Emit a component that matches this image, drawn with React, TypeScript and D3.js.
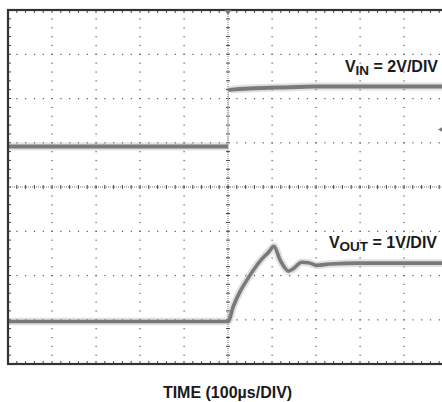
import React from "react";
import * as d3 from "d3";

// time in µs relative to the step (100 µs/DIV), values in screen divisions from centre
const vinLowTime = [-500, 0];
const vinLowDiv = [0.915, 0.915];
const vinHighTime = [1, 3, 20, 60, 120, 200, 300, 500];
const vinHighDiv = [2.17, 2.19, 2.21, 2.23, 2.25, 2.27, 2.27, 2.27];

const voutTime = [-500, 0, 12, 27, 42.5, 57.5, 76.6, 91.6, 104.5, 118, 129.5, 137, 148, 167.5, 182.5, 201.6, 232, 300, 400, 500];
const voutDiv = [-3.04, -3.04, -2.7, -2.37, -2.11, -1.88, -1.63, -1.48, -1.34, -1.64, -1.83, -1.9, -1.85, -1.7, -1.71, -1.77, -1.74, -1.72, -1.72, -1.72];

const xDivisions = [-500, -400, -300, -200, -100, 0, 100, 200, 300, 400, 500];
const yDivisions = [-4, -3, -2, -1, 0, 1, 2, 3, 4];

const W = 442;
const H = 402;

export default function App() {
  const x = d3.scaleLinear().domain([-500, 500]).range([8, 448]);
  const y = d3.scaleLinear().domain([-4, 4]).range([364, 10]);

  const line = d3
    .line<[number, number]>()
    .x((d) => x(d[0]))
    .y((d) => y(d[1]))
    .curve(d3.curveMonotoneX);

  const vinLow: [number, number][] = vinLowTime.map((t, i) => [t, vinLowDiv[i]]);
  const vinHigh: [number, number][] = vinHighTime.map((t, i) => [t, vinHighDiv[i]]);
  const vinEdge: [number, number][] = [
    [vinLowTime[1], vinLowDiv[1]],
    [vinHighTime[0], vinHighDiv[0]],
  ];
  const voutPts: [number, number][] = voutTime.map((t, i) => [t, voutDiv[i]]);

  const minorX = d3.range(-500, 500.001, 20);
  const minorY = d3.range(-4, 4.001, 0.2);

  const gridDots: React.ReactNode[] = [];
  xDivisions.forEach((t) => {
    if (t === 0 || t === -500 || t === 500) return;
    minorY.forEach((v, j) => {
      gridDots.push(
        <rect key={`vx${t}_${j}`} x={x(t) - 0.5} y={y(v) - 0.5} width={1.2} height={1.2} fill="#555" />
      );
    });
  });
  yDivisions.forEach((v) => {
    if (v === 0 || v === -4 || v === 4) return;
    minorX.forEach((t, j) => {
      gridDots.push(
        <rect key={`hy${v}_${j}`} x={x(t) - 0.5} y={y(v) - 0.5} width={1.2} height={1.2} fill="#555" />
      );
    });
  });

  const ticks: React.ReactNode[] = [];
  minorX.forEach((t, j) => {
    ticks.push(<line key={`ch${j}`} x1={x(t)} x2={x(t)} y1={y(0) - 2} y2={y(0) + 2} stroke="#444" strokeWidth={1} />);
    ticks.push(<line key={`tt${j}`} x1={x(t)} x2={x(t)} y1={y(4)} y2={y(4) + 3} stroke="#444" strokeWidth={1} />);
    ticks.push(<line key={`bt${j}`} x1={x(t)} x2={x(t)} y1={y(-4) - 3} y2={y(-4)} stroke="#444" strokeWidth={1} />);
  });
  minorY.forEach((v, j) => {
    ticks.push(<line key={`cv${j}`} x1={x(0) - 2} x2={x(0) + 2} y1={y(v)} y2={y(v)} stroke="#444" strokeWidth={1} />);
    ticks.push(<line key={`lt${j}`} x1={x(-500)} x2={x(-500) + 3} y1={y(v)} y2={y(v)} stroke="#444" strokeWidth={1} />);
  });

  const font = "'Liberation Sans', Arial, Helvetica, sans-serif";

  const trace = (pts: [number, number][], w: number, key: string) => (
    <g key={key}>
      <path d={line(pts) ?? ""} fill="none" stroke="#9a9a9a" strokeOpacity={0.3} strokeWidth={w + 4} strokeLinejoin="round" />
      <path d={line(pts) ?? ""} fill="none" stroke="#7a7a7a" strokeWidth={w} strokeLinejoin="round" />
    </g>
  );

  return (
    <div style={{ position: "absolute", left: 0, top: 0 }}>
      <svg width={W} height={H} style={{ display: "block", background: "#fff" }}>
        {gridDots}
        <line x1={x(-500)} x2={x(500)} y1={y(0)} y2={y(0)} stroke="#777" strokeWidth={1} strokeDasharray="1,1" />
        <line x1={x(0)} x2={x(0)} y1={y(4)} y2={y(-4)} stroke="#777" strokeWidth={1} strokeDasharray="1,1" />
        {ticks}

        {/* traces */}
        <path d={line(vinEdge) ?? ""} fill="none" stroke="#bbb" strokeWidth={1} />
        {trace(vinLow, 4, "vl")}
        {trace(vinHigh, 4, "vh")}
        {trace(voutPts, 3.6, "vo")}

        {/* frame */}
        <rect x={x(-500)} y={y(4)} width={x(500) - x(-500)} height={y(-4) - y(4)} fill="none" stroke="#333" strokeWidth={2.2} />

        {/* trigger markers */}
        <path d={`M${x(0) - 3.5},${y(4)} L${x(0) + 3.5},${y(4)} L${x(0)},${y(4) + 5} Z`} fill="#777" />
        <path d={`M${W + 2},${y(1.3) - 3.5} L${W + 2},${y(1.3) + 3.5} L${W - 4},${y(1.3)} Z`} fill="#777" />

        {/* labels */}
        <text x={438} y={72} textAnchor="end" fontFamily={font} fontWeight="bold" fontSize={16} fill="#1a1a1a">
          V<tspan fontSize={13.5} dy={3}>IN</tspan>
          <tspan dy={-3}> = 2V/DIV</tspan>
        </text>
        <text x={437} y={248} textAnchor="end" fontFamily={font} fontWeight="bold" fontSize={16} fill="#1a1a1a">
          V<tspan fontSize={13.5} dy={3}>OUT</tspan>
          <tspan dy={-3}> = 1V/DIV</tspan>
        </text>
        <text x={227.5} y={398} textAnchor="middle" fontFamily={font} fontWeight="bold" fontSize={16} fill="#1a1a1a">
          TIME (100µs/DIV)
        </text>
      </svg>
    </div>
  );
}
